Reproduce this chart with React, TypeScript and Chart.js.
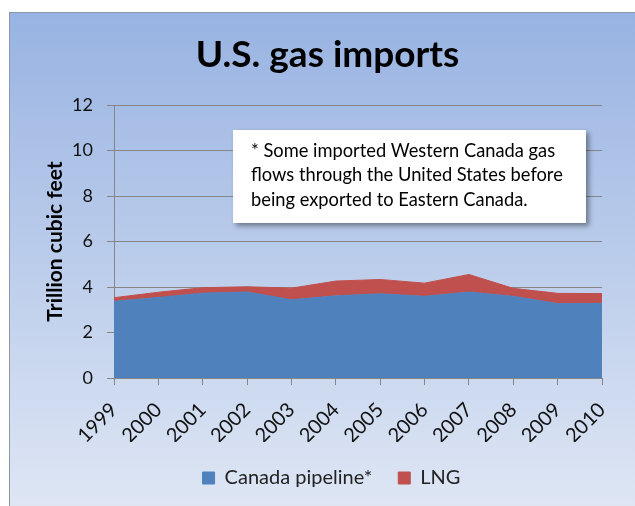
import React, { useEffect, useRef } from 'react';
import { Chart, registerables } from 'chart.js';

Chart.register(...registerables);

const years = ['1999', '2000', '2001', '2002', '2003', '2004', '2005', '2006', '2007', '2008', '2009', '2010'];
const canadaPipeline = [3.37, 3.54, 3.73, 3.78, 3.44, 3.61, 3.7, 3.59, 3.78, 3.59, 3.27, 3.28];
const lng = [0.16, 0.23, 0.24, 0.23, 0.51, 0.65, 0.63, 0.58, 0.77, 0.35, 0.45, 0.43];
const seriesNames = ['Canada pipeline*', 'LNG'];
const seriesColors = ['#4F81BD', '#C0504D'];
const yMin = 0;
const yMax = 12;
const yStep = 2;
const titleText = 'U.S. gas imports';
const yAxisTitle = 'Trillion cubic feet';
const noteLines = [
  '* Some imported Western Canada gas',
  'flows through the United States before',
  'being exported to Eastern Canada.',
];

const FONT = 'Lato, "Open Sans", sans-serif';
const GRID = '#868686';

const framePlugin = {
  id: 'frame',
  beforeDraw(chart: any) {
    const { ctx, width, height } = chart;
    ctx.save();
    ctx.fillStyle = '#ffffff';
    ctx.fillRect(0, 0, width, height);
    const g = ctx.createLinearGradient(0, 12, 0, height);
    g.addColorStop(0, '#98B3E2');
    g.addColorStop(1, '#DEE6F4');
    ctx.fillStyle = g;
    ctx.fillRect(9, 12, width + 20, height + 20);
    ctx.strokeStyle = '#8E98AC';
    ctx.lineWidth = 1;
    ctx.strokeRect(9.5, 12.5, width + 20, height + 20);
    ctx.restore();
  },
  afterDraw(chart: any) {
    const { ctx } = chart;
    ctx.save();
    // title
    ctx.fillStyle = '#000000';
    ctx.font = `bold 37px ${FONT}`;
    ctx.textAlign = 'center';
    ctx.textBaseline = 'alphabetic';
    ctx.fillText(titleText, 327.5, 67);
    // note box
    ctx.save();
    ctx.shadowColor = 'rgba(0,0,0,0.4)';
    ctx.shadowBlur = 5;
    ctx.shadowOffsetX = 3;
    ctx.shadowOffsetY = 3;
    ctx.fillStyle = '#ffffff';
    ctx.fillRect(233, 130, 353, 93);
    ctx.restore();
    ctx.fillStyle = '#000000';
    ctx.font = `18.3px ${FONT}`;
    ctx.textAlign = 'left';
    ctx.textBaseline = 'middle';
    const ys = [151, 175.5, 200];
    noteLines.forEach((t, i) => ctx.fillText(t, 251, ys[i]));
    ctx.restore();
  },
};

export default function App() {
  const ref = useRef<HTMLCanvasElement>(null);
  useEffect(() => {
    if (!ref.current) return;
    const chart = new Chart(ref.current, {
      type: 'line',
      data: {
        labels: years,
        datasets: [
          {
            label: seriesNames[0],
            data: canadaPipeline,
            backgroundColor: seriesColors[0],
            borderColor: seriesColors[0],
            borderWidth: 1,
            pointRadius: 0,
            fill: 'origin',
            tension: 0,
          },
          {
            label: seriesNames[1],
            data: lng,
            backgroundColor: seriesColors[1],
            borderColor: seriesColors[1],
            borderWidth: 1,
            pointRadius: 0,
            fill: '-1',
            tension: 0,
          },
        ],
      },
      options: {
        responsive: false,
        animation: false,
        devicePixelRatio: 1,
        layout: { padding: { left: 28, right: 0, top: 105, bottom: 8 } },
        plugins: {
          title: { display: false },
          tooltip: { enabled: false },
          legend: {
            position: 'bottom',
            labels: {
              boxWidth: 12,
              boxHeight: 12,
              padding: 26,
              color: '#222222',
              font: { family: FONT, size: 20 },
            },
          },
        },
        scales: {
          x: {
            type: 'category',
            grid: { drawOnChartArea: false, drawTicks: true, tickLength: 7, color: GRID },
            border: { display: true, color: GRID },
            ticks: {
              autoSkip: false,
              maxRotation: 45,
              minRotation: 45,
              padding: 13,
              color: '#111111',
              font: { family: FONT, size: 20 },
            },
            afterFit: (s: any) => {
              s.height = 64;
            },
          },
          y: {
            type: 'linear',
            stacked: true,
            min: yMin,
            max: yMax,
            ticks: {
              stepSize: yStep,
              padding: 14,
              color: '#111111',
              font: { family: FONT, size: 18 },
            },
            grid: { color: GRID, tickLength: 7 },
            border: { display: true, color: GRID },
            title: {
              display: true,
              text: yAxisTitle,
              color: '#000000',
              font: { family: FONT, size: 21, weight: 'bold' },
              padding: { top: 14.9, bottom: 0 },
            },
            afterFit: (s: any) => {
              s.width = 86;
            },
          },
          y2: {
            type: 'linear',
            position: 'right',
            display: true,
            grid: { display: false },
            border: { display: false },
            ticks: { display: false },
            afterFit: (s: any) => {
              s.width = 33;
            },
          },
        },
      },
      plugins: [framePlugin],
    } as any);
    return () => chart.destroy();
  }, []);
  return (
    <div style={{ position: 'absolute', left: 0, top: 0, width: 635, height: 506 }}>
      <canvas ref={ref} width={635} height={506} style={{ display: 'block' }} />
    </div>
  );
}
